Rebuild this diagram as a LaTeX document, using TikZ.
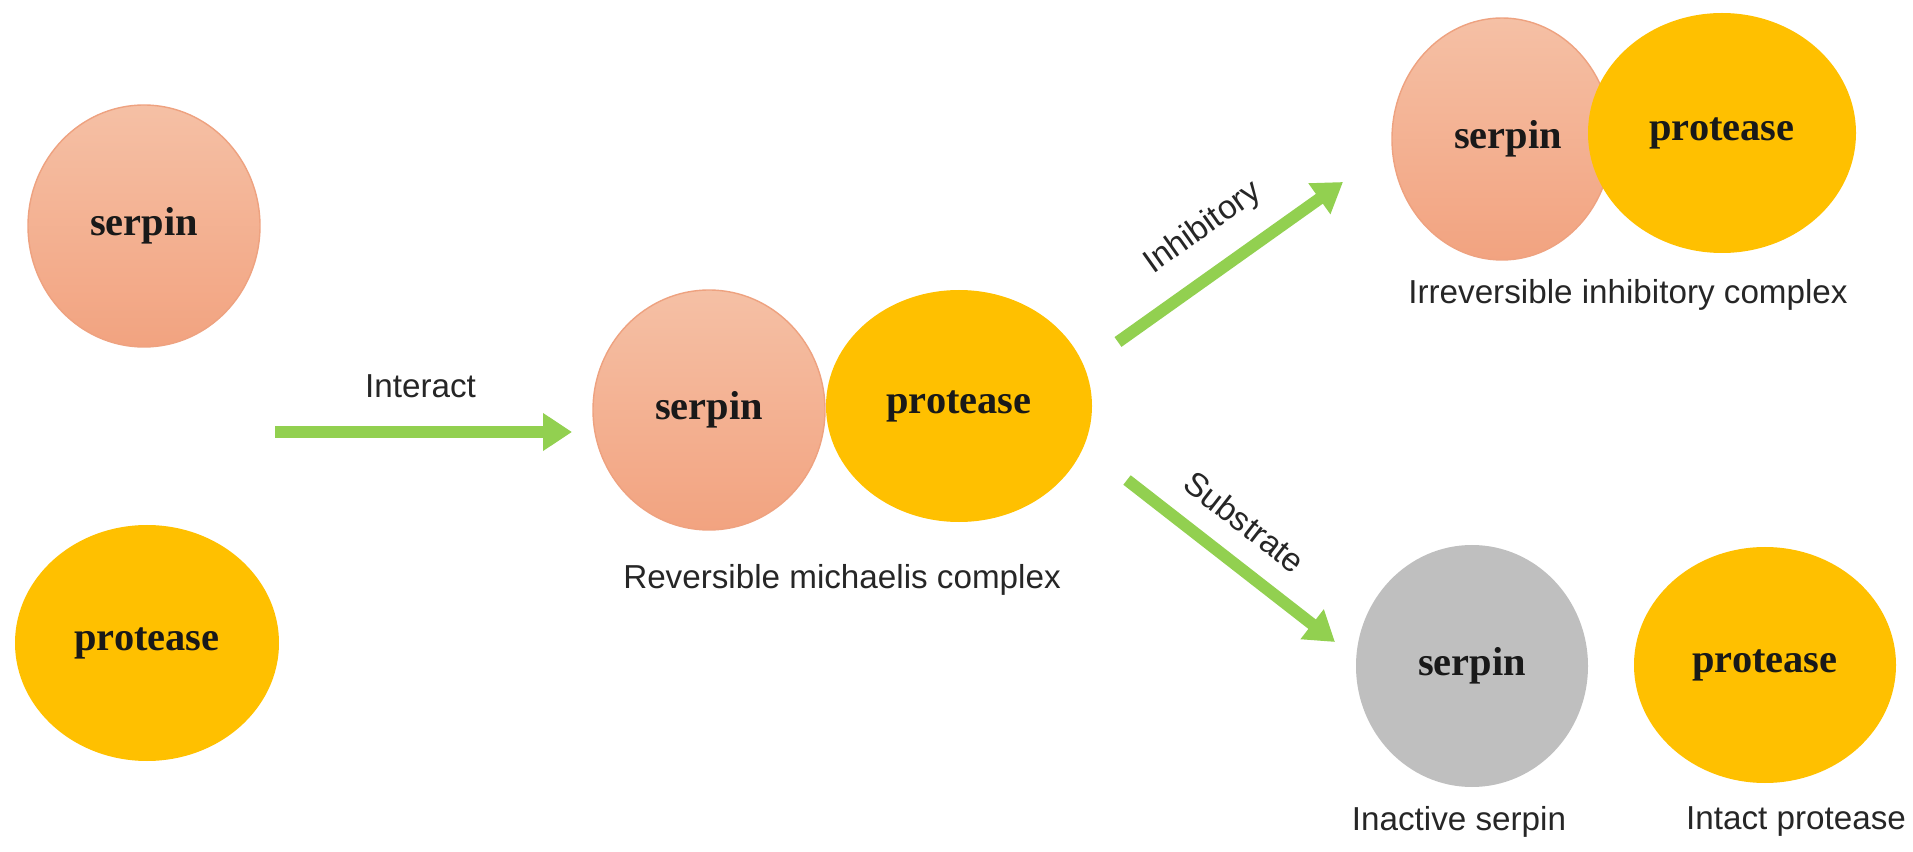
\documentclass[tikz,border=0pt]{standalone}
\usepackage{fontspec}
\setmainfont{Liberation Serif}
\newfontfamily\labelfont{Liberation Sans}
\usetikzlibrary{arrows.meta,shapes.geometric}
\definecolor{SerpinTop}{RGB}{245,192,165}
\definecolor{SerpinBottom}{RGB}{242,163,128}
\definecolor{SerpinEdge}{RGB}{238,162,128}
\definecolor{ProteaseGold}{RGB}{255,192,0}
\definecolor{InactiveGray}{RGB}{191,191,191}
\definecolor{ArrowGreen}{RGB}{146,208,80}

\begin{document}
\begin{tikzpicture}[
    mol/.style={ellipse, inner sep=0pt, text=black!90, font=\fontsize{11.5}{13}\selectfont\bfseries},
    serpin/.style={mol, draw=SerpinEdge, line width=0.4pt, top color=SerpinTop, bottom color=SerpinBottom},
    protease/.style={mol, fill=ProteaseGold},
    inactive/.style={mol, fill=InactiveGray},
    desc/.style={font=\labelfont\fontsize{9.45}{12}\selectfont, text=black!85, inner sep=0pt},
    reaction/.style={-{Triangle[length=0.29cm,width=0.36cm]}, ArrowGreen, line width=0.12cm}
]
    \useasboundingbox (0,0) rectangle (19.13,8.51);
    % Free serpin and protease
    \node[serpin, minimum width=2.32cm, minimum height=2.42cm] (s1) at (1.44,6.25) {serpin};
    \node[protease, minimum width=2.64cm, minimum height=2.36cm] (p1) at (1.47,2.08) {protease};
    % Reversible michaelis complex
    \node[serpin, minimum width=2.32cm, minimum height=2.40cm] (s2) at (7.09,4.41) {serpin};
    \node[protease, minimum width=2.66cm, minimum height=2.32cm] (p2) at (9.59,4.45) {protease};
    \node[desc] (l2) at (8.42,2.71) {Reversible michaelis complex};
    % Irreversible inhibitory complex
    \node[serpin, minimum width=2.20cm, minimum height=2.42cm] (s3) at (15.02,7.12) {\hspace*{0.12cm}serpin};
    \node[protease, minimum width=2.68cm, minimum height=2.40cm] (p3) at (17.22,7.18) {protease};
    \node[desc] (l3) at (16.28,5.56) {Irreversible inhibitory complex};
    % Substrate pathway products
    \node[inactive, minimum width=2.32cm, minimum height=2.42cm] (s4) at (14.72,1.85) {serpin};
    \node[protease, minimum width=2.62cm, minimum height=2.36cm] (p4) at (17.65,1.86) {protease};
    \node[desc] (l4) at (14.59,0.29) {Inactive serpin};
    \node[desc] (l5) at (17.96,0.29) {Intact protease};
    % Arrow end points
    \coordinate (in1) at (2.75,4.19);
    \coordinate (in2) at (5.72,4.19);
    \coordinate (inh1) at (11.18,5.09);
    \coordinate (inh2) at (13.43,6.69);
    \coordinate (sub1) at (11.27,3.71);
    \coordinate (sub2) at (13.35,2.09);
    % Reaction arrows
    \draw[reaction] (in1) -- (in2) node[desc, pos=0.49, above=0.28cm] {Interact};
    \draw[reaction] (inh1) -- (inh2) node[desc, pos=0.49, sloped, above=0.22cm] {Inhibitory};
    \draw[reaction] (sub1) -- (sub2) node[desc, pos=0.45, sloped, above=0.21cm] {Substrate};
\end{tikzpicture}
\end{document}
